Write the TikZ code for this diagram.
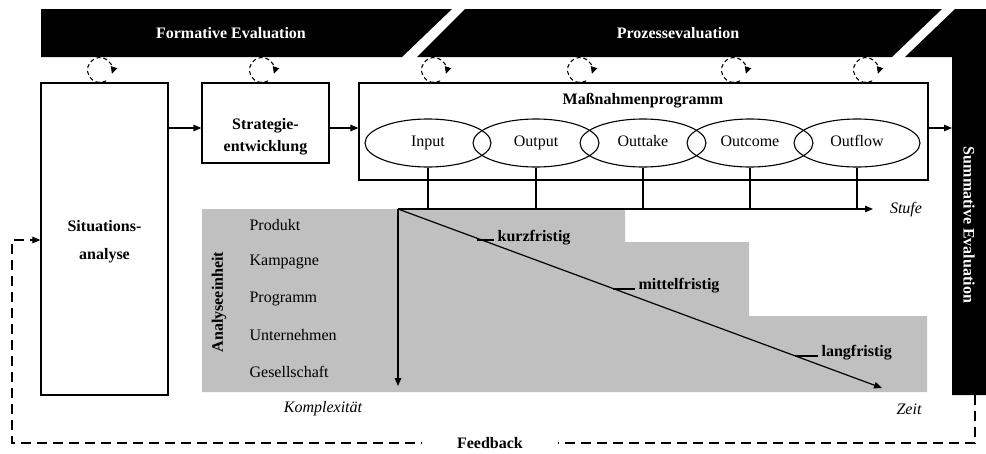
\documentclass[tikz,border=0pt]{standalone}
\usepackage{fontspec}
\setmainfont{Liberation Serif}
\usetikzlibrary{arrows.meta,shapes.geometric,calc}
\definecolor{areagray}{HTML}{C0C0C0}
\begin{document}
\begin{tikzpicture}[x=1pt,y=-1pt,
  font=\fontsize{16}{19}\selectfont,
  line width=1.2pt,
  tip/.style={-{Triangle[length=8pt,width=6.5pt]}},
  box/.style={draw,line width=1.2pt,inner sep=0pt},
  boxtext/.style={inner sep=0pt,align=center,font=\fontsize{16}{22}\selectfont\bfseries},
  ell/.style={draw,ellipse,minimum width=126pt,minimum height=48pt,inner sep=0pt,line width=1.1pt,text height=11pt,text depth=3.5pt},
  bandtext/.style={text=white,font=\fontsize{16}{19}\selectfont\bfseries},
  cyc/.style={line width=1.1pt,dash pattern=on 4pt off 3pt,-{Triangle[length=7pt,width=6.5pt]}},
  fbline/.style={line width=1.1pt,dash pattern=on 10pt off 6pt},
  lbl/.style={inner sep=0pt,text height=11pt,text depth=3.5pt},
  blbl/.style={inner sep=0pt,font=\fontsize{16}{19}\selectfont\bfseries},
  ilbl/.style={inner sep=0pt,font=\fontsize{16}{19}\selectfont\itshape},
]
\useasboundingbox (0,0) rectangle (986,453);
% bands
\fill (41,9) -- (452,9) -- (402,57) -- (41,57) -- cycle;
\fill (465,9) -- (942,9) -- (892,57) -- (417,57) -- cycle;
\fill (955,9) -- (986,9) -- (986,395) -- (952,395) -- (952,57) -- (905,57) -- cycle;
\node[bandtext] (fe) at (231,33) {Formative Evaluation};
\node[bandtext] (pe) at (678,33) {Prozessevaluation};
\node[bandtext,rotate=-90] (se) at (969,225) {Summative Evaluation};
% grey area
\fill[areagray] (202,209) -- (625,209) -- (625,242) -- (749,242) -- (749,316) -- (927,316) -- (927,392) -- (202,392) -- cycle;
% loops
\foreach \cx in {100,262,434,580,734,866}{
  \draw[cyc] (\cx,70) ++(60:12.5) arc[start angle=60,end angle=378,radius=12.5];
}
% boxes
\node[box,minimum width=127pt,minimum height=312pt] (sit) at (104.5,239) {};
\node[boxtext,font=\fontsize{16}{28}\selectfont\bfseries] (sitt) at (104.5,242) {Situations-\\analyse};
\node[box,minimum width=127pt,minimum height=80pt] (str) at (265.5,123) {};
\node[boxtext] (strt) at (265.5,137) {Strategie-\\entwicklung};
\node[box,minimum width=569pt,minimum height=97pt] (mp) at (643.5,131.5) {};
\node[blbl] (mpt) at (643,101) {Maßnahmenprogramm};
\node[ell] (e1) at (428,143) {Input};
\node[ell] (e2) at (536,143) {Output};
\node[ell] (e3) at (643,143) {Outtake};
\node[ell] (e4) at (750,143) {Outcome};
\node[ell] (e5) at (857,143) {Outflow};
% flow arrows
\coordinate (ay) at (0,128);
\coordinate (sumL) at (952,128);
\draw[tip] (sit.east |- ay) -- (str.west |- ay);
\draw[tip] (str.east |- ay) -- (mp.west |- ay);
\draw[tip] (mp.east |- ay) -- (sumL);
% axes
\coordinate (O) at (398,209);
\coordinate (K) at (398,386);
\coordinate (S) at (873,209);
\coordinate (Z) at (882,388);
\foreach \e in {e1,e2,e3,e4,e5}{ \draw (\e.south) -- (\e.south |- O); }
\draw[tip] (O) -- (K);
\draw[tip] (O) -- (S);
\draw[tip] (O) -- (Z);
\node[ilbl] (stufe) at (906,210) {Stufe};
\node[ilbl] (komp) at (323,409) {Komplexität};
\node[ilbl] (zeit) at (909,409) {Zeit};
% time labels
\node[blbl,anchor=west,inner xsep=3pt] (kf) at (494,238) {kurzfristig};
\node[blbl,anchor=west,inner xsep=3pt] (mf) at (635,286) {mittelfristig};
\node[blbl,anchor=west,inner xsep=3pt] (lf) at (818,353) {langfristig};
\coordinate (k1) at (477,240);
\coordinate (k2) at (613,289);
\coordinate (k3) at (795,356);
\draw (k1) -- (k1 -| kf.west);
\draw (k2) -- (k2 -| mf.west);
\draw (k3) -- (k3 -| lf.west);
% analysis units
\node[lbl,anchor=west] (u1) at (249,227) {Produkt};
\node[lbl,anchor=west] (u2) at (249,262) {Kampagne};
\node[lbl,anchor=west] (u3) at (249,299) {Programm};
\node[lbl,anchor=west] (u4) at (249,337) {Unternehmen};
\node[lbl,anchor=west] (u5) at (249,374) {Gesellschaft};
\node[blbl,rotate=90] (ae) at (219,302) {Analyseeinheit};
% feedback
\coordinate (sb) at (975,395);
\draw[fbline,tip] (sb) -- (975,443) -- (12,443) -- (12,240) -- (sit.west |- 0,240);
\node[blbl,fill=white,inner xsep=35pt,inner ysep=2pt] (fb) at (490,443) {Feedback};
\end{tikzpicture}
\end{document}
